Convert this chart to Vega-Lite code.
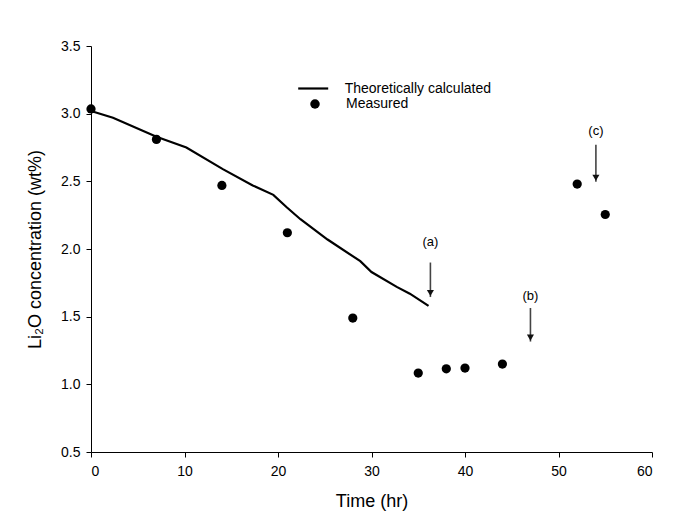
{
  "$schema": "https://vega.github.io/schema/vega-lite/v6.json",
  "width": 561,
  "height": 406,
  "autosize": "none",
  "padding": {"left": 91, "top": 46, "right": 31, "bottom": 71},
  "background": "white",
  "config": {
    "font": "Liberation Sans",
    "view": {"stroke": null},
    "axis": {"grid": false, "domainColor": "black", "tickColor": "black", "labelColor": "black", "titleColor": "black", "labelFont": "Liberation Sans", "titleFont": "Liberation Sans", "titleFontWeight": "normal", "labelFontSize": 14, "titleFontSize": 18, "tickSize": 5},
    "legend": {"padding": 0, "labelFontSize": 14, "labelFont": "Liberation Sans", "labelColor": "black", "title": null}
  },
  "datasets": {
    "theory": [
      {"t": 0, "c": 3.02, "series": "Theoretically calculated"}, {"t": 2.35, "c": 2.97, "series": "Theoretically calculated"},
      {"t": 7.0, "c": 2.83, "series": "Theoretically calculated"}, {"t": 10.2, "c": 2.75, "series": "Theoretically calculated"},
      {"t": 14.1, "c": 2.59, "series": "Theoretically calculated"}, {"t": 17.3, "c": 2.47, "series": "Theoretically calculated"},
      {"t": 19.5, "c": 2.40, "series": "Theoretically calculated"}, {"t": 20.9, "c": 2.31, "series": "Theoretically calculated"},
      {"t": 22.4, "c": 2.22, "series": "Theoretically calculated"}, {"t": 25.3, "c": 2.07, "series": "Theoretically calculated"},
      {"t": 28.8, "c": 1.91, "series": "Theoretically calculated"}, {"t": 30.0, "c": 1.83, "series": "Theoretically calculated"},
      {"t": 32.7, "c": 1.72, "series": "Theoretically calculated"}, {"t": 34.1, "c": 1.67, "series": "Theoretically calculated"},
      {"t": 36.1, "c": 1.58, "series": "Theoretically calculated"}
    ],
    "measured": [
      {"t": 0, "c": 3.035, "series": "Measured"}, {"t": 7, "c": 2.81, "series": "Measured"},
      {"t": 14, "c": 2.47, "series": "Measured"}, {"t": 21, "c": 2.12, "series": "Measured"},
      {"t": 28, "c": 1.49, "series": "Measured"}, {"t": 35, "c": 1.083, "series": "Measured"},
      {"t": 38, "c": 1.115, "series": "Measured"}, {"t": 40, "c": 1.12, "series": "Measured"},
      {"t": 44, "c": 1.15, "series": "Measured"}, {"t": 52, "c": 2.48, "series": "Measured"},
      {"t": 55, "c": 2.255, "series": "Measured"}
    ],
    "arrows": [
      {"t": 36.3, "top": 1.90, "tip": 1.645, "lab": 2.05, "label": "(a)"},
      {"t": 47.0, "top": 1.564, "tip": 1.316, "lab": 1.65, "label": "(b)"},
      {"t": 54.0, "top": 2.77, "tip": 2.497, "lab": 2.874, "label": "(c)"}
    ]
  },
  "layer": [
    {
      "data": {"name": "theory"},
      "mark": {"type": "line", "strokeWidth": 2.2},
      "encoding": {
        "x": {"field": "t", "type": "quantitative", "scale": {"domain": [0, 60], "nice": false},
              "axis": {"title": "Time (hr)", "values": [0, 10, 20, 30, 40, 50, 60], "labelPadding": 7, "titlePadding": 14}},
        "y": {"field": "c", "type": "quantitative", "scale": {"domain": [0.5, 3.5], "nice": false, "zero": false},
              "axis": {"title": "Li₂O concentration (wt%)", "values": [0.5, 1.0, 1.5, 2.0, 2.5, 3.0, 3.5], "format": ".1f", "labelPadding": 6, "titlePadding": 16}},
        "color": {
          "field": "series", "type": "nominal",
          "scale": {"domain": ["Theoretically calculated"], "range": ["black"]},
          "legend": {"orient": "none", "legendX": 205.7, "legendY": 26, "symbolSize": 900, "symbolStrokeWidth": 2.2, "labelOffset": 15}
        }
      }
    },
    {
      "data": {"name": "arrows"},
      "mark": {"type": "rule", "color": "#444444", "strokeWidth": 1.6},
      "encoding": {
        "x": {"field": "t", "type": "quantitative"},
        "y": {"field": "top", "type": "quantitative"},
        "y2": {"field": "tip"}
      }
    },
    {
      "data": {"name": "arrows"},
      "mark": {"type": "point", "shape": "triangle-down", "filled": true, "color": "#111111", "size": 50, "opacity": 1, "yOffset": -4},
      "encoding": {
        "x": {"field": "t", "type": "quantitative"},
        "y": {"field": "tip", "type": "quantitative"}
      }
    },
    {
      "data": {"name": "arrows"},
      "mark": {"type": "text", "color": "black", "fontSize": 13, "font": "Liberation Sans", "baseline": "middle", "align": "center"},
      "encoding": {
        "x": {"field": "t", "type": "quantitative"},
        "y": {"field": "lab", "type": "quantitative"},
        "text": {"field": "label"}
      }
    },
    {
      "data": {"name": "measured"},
      "mark": {"type": "point", "filled": true, "color": "black", "size": 85, "opacity": 1},
      "encoding": {
        "x": {"field": "t", "type": "quantitative"},
        "y": {"field": "c", "type": "quantitative"},
        "shape": {
          "field": "series", "type": "nominal",
          "scale": {"domain": ["Measured"], "range": ["circle"]},
          "legend": {"orient": "none", "legendX": 217, "legendY": 51, "symbolSize": 90, "symbolFillColor": "black", "symbolStrokeColor": "black", "symbolStrokeWidth": 0, "labelOffset": 24}
        }
      }
    }
  ]
}
